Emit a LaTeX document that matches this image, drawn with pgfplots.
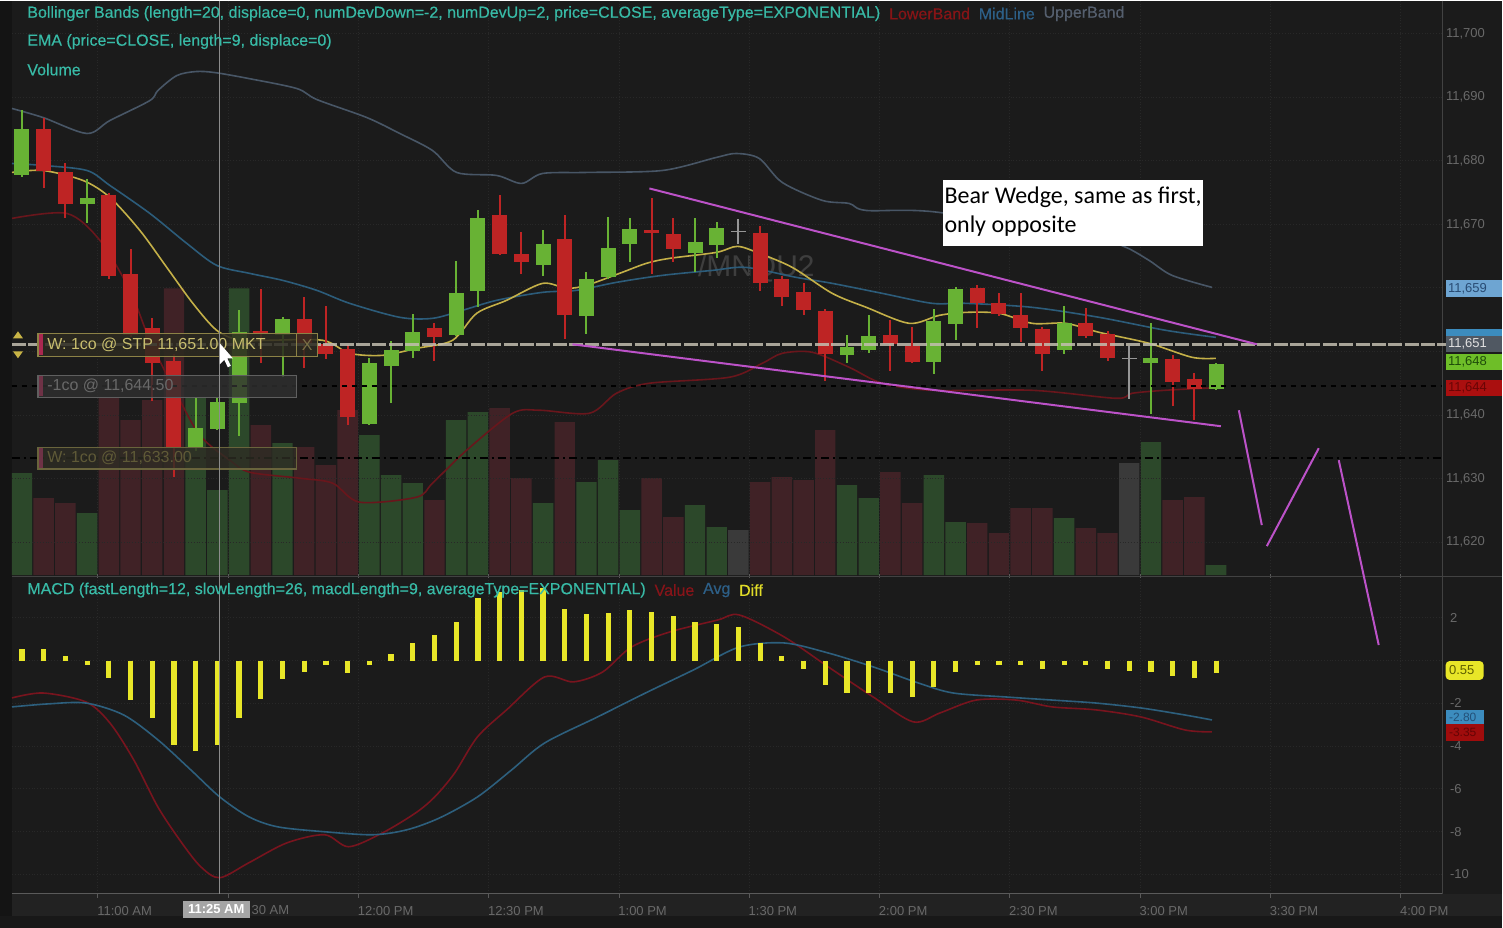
\documentclass[border=0pt]{standalone}
\usepackage{pgfplots}
\pgfplotsset{compat=1.18}
\usepackage{pgfplotstable}
\usepackage{fontspec}
\setmainfont{Liberation Sans}
\newfontfamily\calibri{Carlito}
\newfontfamily\lgfam[FakeBold=0.4]{Liberation Sans}

\definecolor{bg}{RGB}{27,27,27}
\definecolor{strip}{RGB}{20,20,20}
\definecolor{timebg}{RGB}{34,34,34}
\definecolor{botbg}{RGB}{24,24,24}
\definecolor{sepc}{RGB}{66,66,66}
\definecolor{axl}{RGB}{90,90,90}
\definecolor{gridc}{RGB}{40,40,40}
\definecolor{tickg}{RGB}{105,105,105}
\definecolor{upc}{RGB}{104,178,52}
\definecolor{dnc}{RGB}{190,36,36}
\definecolor{grc}{RGB}{150,150,150}
\definecolor{vup}{RGB}{44,72,42}
\definecolor{vdn}{RGB}{64,34,38}
\definecolor{vgr}{RGB}{58,58,58}
\definecolor{ubc}{RGB}{72,86,102}
\definecolor{mlc}{RGB}{44,92,122}
\definecolor{lbc}{RGB}{105,22,28}
\definecolor{emac}{RGB}{196,176,72}
\definecolor{macdy}{RGB}{232,230,40}
\definecolor{valc}{RGB}{120,20,30}
\definecolor{avgc}{RGB}{45,95,125}
\definecolor{tealc}{RGB}{56,186,166}
\definecolor{mag}{RGB}{188,82,200}
\definecolor{wmc}{RGB}{62,62,62}
\definecolor{obox}{RGB}{140,130,70}
\definecolor{otext}{RGB}{200,190,110}

% candles: k open high low close volume
\pgfplotstableread{
k o h l c v
0 11677.75 11688.00 11677.50 11685.00 102
3 11673.25 11677.25 11670.25 11674.25 62
8 11635.00 11642.75 11634.50 11638.00 177
9 11638.00 11642.75 11637.75 11642.25 85
10 11642.00 11656.50 11636.75 11653.25 287
12 11652.75 11655.50 11646.00 11655.25 132
16 11638.75 11649.00 11638.50 11648.25 140
17 11647.75 11651.75 11642.00 11650.25 100
18 11650.25 11656.00 11649.00 11653.25 92
20 11652.75 11664.25 11652.50 11659.25 155
21 11659.50 11672.25 11657.00 11671.00 163
24 11663.75 11669.25 11662.00 11667.00 72
26 11655.75 11662.50 11652.75 11661.50 93
27 11661.75 11671.25 11661.50 11666.25 115
28 11667.00 11671.00 11664.00 11669.25 65
31 11665.50 11671.00 11662.50 11667.25 70
32 11666.75 11670.50 11664.75 11669.50 48
38 11649.50 11652.75 11648.25 11650.75 90
39 11650.25 11655.75 11649.75 11652.50 77
42 11648.50 11656.75 11646.50 11655.00 100
43 11654.50 11660.25 11652.00 11660.00 53
48 11650.25 11657.25 11649.75 11654.50 57
52 11648.25 11654.50 11640.25 11649.00 133
55 11644.25 11648.25 11644.00 11648.25 10
}\upbars
\pgfplotstableread{
k o h l c v
1 11685.00 11686.75 11675.75 11678.50 77
2 11678.25 11679.75 11671.00 11673.25 72
4 11674.75 11675.00 11661.50 11662.00 178
5 11662.25 11666.25 11652.50 11652.75 155
6 11653.75 11655.25 11642.25 11648.25 175
7 11648.50 11649.50 11630.25 11635.00 287
11 11653.25 11660.00 11648.25 11652.75 150
13 11655.25 11658.75 11647.50 11651.25 128
14 11651.25 11657.25 11649.00 11649.75 110
15 11650.50 11651.00 11638.50 11639.75 165
19 11653.75 11654.50 11648.50 11652.25 75
22 11671.50 11674.75 11665.25 11665.50 167
23 11665.50 11668.75 11662.25 11664.25 97
25 11667.75 11671.50 11652.00 11655.75 153
29 11669.25 11674.25 11662.25 11668.75 97
30 11668.50 11671.00 11664.00 11666.25 58
34 11668.75 11669.75 11659.50 11660.75 93
35 11661.50 11662.00 11657.25 11658.75 98
36 11659.25 11660.75 11655.75 11656.50 95
37 11656.50 11656.75 11645.50 11649.75 145
40 11652.75 11655.00 11647.00 11651.25 103
41 11651.00 11654.00 11648.25 11648.50 72
44 11660.00 11660.50 11653.75 11657.75 52
45 11657.75 11659.25 11655.75 11656.00 42
46 11655.75 11659.25 11651.50 11653.75 67
47 11653.75 11654.00 11647.00 11649.75 67
49 11654.50 11657.00 11652.25 11652.50 47
50 11652.75 11653.25 11648.50 11649.00 42
53 11649.00 11649.50 11641.50 11645.25 75
54 11645.75 11646.75 11639.25 11644.25 78
}\dnbars
\pgfplotstableread{
k o h l c v
33 11669.00 11671.00 11667.00 11669.00 45
51 11649.00 11651.00 11642.75 11649.00 112
}\grbars

% Bollinger bands and EMA (k, price)
\pgfplotstableread{
k p
-0.46 11688.22
0.97 11686.80
2.99 11684.29
4.05 11686.33
5.89 11689.47
6.26 11691.05
7.13 11693.40
8.01 11694.03
8.88 11693.87
10.45 11692.93
12.66 11691.36
13.58 11689.63
15.88 11686.80
17.40 11684.29
18.91 11681.61
20.02 11678.16
21.86 11677.69
23.01 11676.43
23.98 11678.00
26.00 11678.16
29.50 11678.47
31.98 11680.52
32.90 11681.14
33.96 11680.36
35.02 11676.58
36.86 11673.76
38.10 11673.28
38.89 11672.18
42.25 11671.87
49.61 11667.47
50.85 11666.37
51.91 11664.33
52.97 11661.97
54.81 11660.08
}\ub
\pgfplotstableread{
k p
-0.46 11679.57
0.97 11679.26
2.99 11678.47
4.05 11676.11
5.89 11671.71
7.59 11667.00
8.97 11663.54
10.49 11662.28
12.01 11661.18
13.58 11659.61
15.09 11657.57
17.40 11655.37
18.91 11655.21
20.29 11656.47
21.86 11658.04
23.98 11659.30
25.54 11659.61
27.38 11660.87
29.50 11661.97
31.80 11662.75
33.36 11663.22
35.67 11661.65
37.32 11660.71
39.62 11659.14
41.92 11657.57
43.49 11657.57
46.53 11656.94
49.61 11655.37
52.69 11653.32
54.99 11652.22
}\ml
\pgfplotstableread{
k p
-0.46 11670.93
2.07 11671.71
3.59 11667.47
4.97 11659.61
5.89 11651.75
7.04 11643.89
8.19 11636.82
9.57 11632.90
10.49 11631.00
12.79 11630.06
14.31 11629.28
15.55 11626.29
18.18 11627.08
18.91 11629.28
20.48 11634.46
22.60 11640.28
23.84 11640.75
26.14 11640.28
27.38 11643.42
28.90 11645.00
32.58 11645.94
34.10 11648.14
35.02 11649.71
36.40 11649.87
38.10 11647.51
39.62 11645.00
41.92 11643.89
46.53 11643.89
50.39 11642.63
51.13 11643.42
52.69 11643.90
54.99 11644.30
}\lb
\pgfplotstableread{
k p
-0.46 11678.16
0.97 11678.47
2.81 11676.90
4.05 11674.23
5.43 11669.04
6.67 11663.22
7.87 11657.57
8.97 11653.32
10.03 11651.75
11.27 11651.75
13.85 11651.75
15.09 11649.71
16.61 11649.39
18.18 11650.49
19.83 11651.75
20.94 11655.99
22.32 11658.04
23.98 11660.71
25.08 11659.93
26.00 11660.40
27.52 11662.28
28.76 11663.86
29.82 11664.64
31.98 11665.58
32.95 11666.53
33.96 11665.43
35.48 11663.22
37.32 11659.14
38.89 11656.94
40.87 11654.42
42.25 11655.68
43.49 11656.15
45.01 11656.00
46.53 11654.42
48.09 11654.42
49.61 11653.01
51.91 11651.28
53.89 11649.08
54.99 11648.92
}\ema

% MACD: histogram (Diff), Value, Avg
\pgfplotstableread{
k d
0 0.54
1 0.54
2 0.2
3 -0.2
4 -0.82
5 -1.85
6 -2.69
7 -3.95
8 -4.23
9 -3.95
10 -2.69
11 -1.80
12 -0.86
13 -0.54
14 -0.2
15 -0.58
16 -0.2
17 0.30
18 0.82
19 1.19
20 1.80
21 2.92
22 3.20
23 3.30
24 3.39
25 2.40
26 2.17
27 2.22
28 2.36
29 2.27
30 2.08
31 1.80
32 1.71
33 1.57
34 0.82
35 0.2
36 -0.40
37 -1.14
38 -1.52
39 -1.52
40 -1.52
41 -1.70
42 -1.24
43 -0.54
44 -0.2
45 -0.2
46 -0.2
47 -0.40
48 -0.2
49 -0.2
50 -0.40
51 -0.49
52 -0.54
53 -0.72
54 -0.82
55 -0.58
}\hist
\pgfplotstableread{
k m
-0.46 -1.75
0.97 -1.52
2.95 -1.94
4.05 -2.92
5.15 -4.65
6.26 -6.85
7.36 -8.53
8.24 -9.65
9.11 -10.16
10.45 -9.46
12.20 -8.53
13.94 -8.15
15.05 -8.71
16.61 -8.06
18.13 -7.13
19.01 -6.38
19.93 -5.26
20.98 -3.57
22.32 -2.31
24.07 -0.77
25.40 -1.00
26.74 -0.54
28.07 0.63
29.82 1.33
32.03 1.89
33.04 2.13
35.11 1.10
37.14 -0.30
39.21 -1.71
41.05 -2.87
42.29 -2.45
43.95 -1.85
45.79 -1.85
47.45 -2.17
49.47 -2.31
51.54 -2.64
53.57 -3.25
54.81 -3.34
}\mval
\pgfplotstableread{
k m
-0.46 -2.17
1.20 -2.03
2.95 -1.99
4.69 -2.55
6.26 -3.71
7.78 -5.12
9.11 -6.38
10.45 -7.31
11.78 -7.78
13.94 -8.01
16.15 -8.15
17.72 -7.92
19.24 -7.36
20.98 -6.38
22.55 -5.12
24.07 -3.86
26.51 -2.64
28.72 -1.52
30.93 -0.44
33.04 0.63
35.11 0.82
37.14 0.35
39.21 -0.30
41.28 -1.05
42.89 -1.52
45.38 -1.71
47.45 -1.85
49.47 -1.99
51.54 -2.22
53.57 -2.55
54.81 -2.78
}\mavg

\pgfplotsset{
  panel/.style={scale only axis, width=715.5pt, xmin=-0.46, xmax=65.39,
    axis line style={draw=none},
    xtick={3.5,9.5,15.5,21.5,27.5,33.5,39.5,45.5,51.5,57.5,63.5},
    grid=major, grid style={draw=gridc, densely dotted, line width=0.5pt},
    yticklabel pos=right, scaled y ticks=false,
    yticklabel style={font=\fontsize{6.5}{7}\selectfont, text=tickg, anchor=west, inner sep=0pt, xshift=2pt},
    xticklabel style={font=\fontsize{6.5}{7}\selectfont, text=tickg, anchor=north west, inner sep=0pt, xshift=-0.5pt, yshift=-4pt}},
  wick/.style={draw=none, mark=none, forget plot,
    error bars/.cd, y dir=both, y explicit, error mark=none,
    error bar style={draw=#1, line width=1pt}},
  body/.style={draw=none, mark=none, forget plot,
    error bars/.cd, y dir=both, y explicit, error mark=none,
    error bar style={draw=#1, line width=7.5pt}},
}
\newcommand{\lgf}{\lgfam\fontsize{8}{9}\selectfont}
\newcommand{\obf}{\fontsize{8}{9}\selectfont}

\begin{document}
\begin{tikzpicture}
\fill[bg] (0,0) rectangle (751.5pt,-464pt);
\begin{scope}[x=0.5pt,y=-0.5pt]
  \fill[strip] (0,0) rectangle (12,928);
  \fill[timebg] (12,894) rectangle (1503,916);
  \fill[botbg] (0,916) rectangle (1503,928);
  \node[text=wmc, font=\fontsize{15}{15}\selectfont, inner sep=0] at (757,268) {/MNQU2};
\end{scope}

% volume
\begin{axis}[at={(6pt,-287.5pt)}, anchor=south west, scale only axis,
  width=715.5pt, height=287.5pt, xmin=-0.46, xmax=65.39, ymin=0, ymax=575, hide axis]
\addplot[ybar, bar width=0.94, bar shift=0pt, fill=vup, draw=none] table[x=k,y=v] {\upbars};
\addplot[ybar, bar width=0.94, bar shift=0pt, fill=vdn, draw=none] table[x=k,y=v] {\dnbars};
\addplot[ybar, bar width=0.94, bar shift=0pt, fill=vgr, draw=none] table[x=k,y=v] {\grbars};
\end{axis}

% price
\begin{axis}[panel, at={(6pt,-287.5pt)}, anchor=south west, height=287.5pt,
  ymin=11614.82, ymax=11705.19, major tick length=0pt, xticklabels={},
  ytick={11620,11630,11640,11650,11660,11670,11680,11690,11700},
  yticklabels={{11,620},{11,630},{11,640},{},{},{11,670},{11,680},{11,690},{11,700}}]
\addplot[ubc, line width=0.8pt, smooth, tension=0.5] table[x=k,y=p] {\ub};
\addplot[mlc, line width=0.8pt, smooth, tension=0.5] table[x=k,y=p] {\ml};
\addplot[lbc, line width=0.8pt, smooth, tension=0.5] table[x=k,y=p] {\lb};
\addplot[emac, line width=0.8pt, smooth, tension=0.5] table[x=k,y=p] {\ema};
\addplot[wick=upc] table[x=k, y expr={(\thisrow{h}+\thisrow{l})/2}, y error expr={(\thisrow{h}-\thisrow{l})/2}] {\upbars};
\addplot[wick=dnc] table[x=k, y expr={(\thisrow{h}+\thisrow{l})/2}, y error expr={(\thisrow{h}-\thisrow{l})/2}] {\dnbars};
\addplot[wick=grc] table[x=k, y expr={(\thisrow{h}+\thisrow{l})/2}, y error expr={(\thisrow{h}-\thisrow{l})/2}] {\grbars};
\addplot[body=upc] table[x=k, y expr={(\thisrow{o}+\thisrow{c})/2}, y error expr={max(abs(\thisrow{o}-\thisrow{c})/2,0.12)}] {\upbars};
\addplot[body=dnc] table[x=k, y expr={(\thisrow{o}+\thisrow{c})/2}, y error expr={max(abs(\thisrow{o}-\thisrow{c})/2,0.12)}] {\dnbars};
\addplot[body=grc] table[x=k, y expr={(\thisrow{o}+\thisrow{c})/2}, y error expr={max(abs(\thisrow{o}-\thisrow{c})/2,0.12)}] {\grbars};
\end{axis}

% MACD
\begin{axis}[panel, at={(6pt,-447pt)}, anchor=south west, height=158pt,
  ymin=-10.911, ymax=3.855, ytick={-10,-8,-6,-4,-2,0,2},
  yticklabels={-10,-8,-6,-4,-2,{},2},
  xticklabels={11:00 AM,{},12:00 PM,12:30 PM,1:00 PM,1:30 PM,2:00 PM,2:30 PM,3:00 PM,3:30 PM,4:00 PM},
  tick align=outside, major tick length=2pt,
  xtick style={draw=axl, line width=0.5pt}, ytick style={draw=none}]
\addplot[valc, line width=0.8pt, smooth, tension=0.5] table[x=k,y=m] {\mval};
\addplot[avgc, line width=0.8pt, smooth, tension=0.5] table[x=k,y=m] {\mavg};
\addplot[ycomb, macdy, line width=2.6pt] table[x=k,y=d] {\hist};
\end{axis}

\begin{scope}[x=0.5pt,y=-0.5pt]
  % frames
  \draw[sepc, line width=0.6pt] (1443.5,0) -- (1443.5,894);
  \draw[sepc, line width=0.6pt] (12,576.5) -- (1503,576.5);
  \draw[axl, line width=0.6pt] (12,894) -- (1443,894);
  % order levels
  \draw[black, line width=1pt, dash pattern=on 2.5pt off 2.5pt] (12,386) -- (1443,386);
  \draw[black, line width=1pt, dash pattern=on 4pt off 2pt on 1pt off 2pt] (12,458) -- (1443,458);
  \draw[color={rgb,255:red,195;green,190;blue,176}, opacity=0.85, line width=1.4pt, dash pattern=on 7pt off 1.2pt] (12,344.5) -- (1503,344.5);
  % order boxes
  \draw[obox, fill={rgb,255:red,44;green,42;blue,32}, fill opacity=0.85, line width=0.7pt] (38,333) rectangle (318,356);
  \fill[color={rgb,255:red,170;green,40;blue,80}] (39,334) rectangle (43,355);
  \draw[obox, line width=0.6pt] (297,333) -- (297,356);
  \node[anchor=west, inner sep=0, text=otext, font=\obf] at (47,344.5) {W: 1co @ STP 11,651.00 MKT};
  \node[inner sep=0, text={rgb,255:red,120;green,112;blue,70}, font=\obf] at (307.5,344.5) {X};
  \draw[color={rgb,255:red,95;green,95;blue,95}, fill={rgb,255:red,48;green,48;blue,48}, fill opacity=0.8, line width=0.7pt] (38,375) rectangle (297,397);
  \fill[color={rgb,255:red,110;green,50;blue,70}] (39,376) rectangle (43,396);
  \node[anchor=west, inner sep=0, text={rgb,255:red,105;green,105;blue,105}, font=\obf] at (47,386) {-1co @ 11,644.50};
  \draw[color={rgb,255:red,105;green,100;blue,60}, fill={rgb,255:red,46;green,45;blue,36}, fill opacity=0.8, line width=0.7pt] (38,447) rectangle (297,469);
  \fill[color={rgb,255:red,110;green,50;blue,70}] (39,448) rectangle (43,468);
  \node[anchor=west, inner sep=0, text={rgb,255:red,95;green,90;blue,55}, font=\obf] at (47,458) {W: 1co @ 11,633.00};
  % left arrows
  \fill[color={rgb,255:red,200;green,180;blue,70}] (13,338) -- (23,338) -- (18,331) -- cycle;
  \fill[color={rgb,255:red,200;green,180;blue,70}] (13,351) -- (23,351) -- (18,358) -- cycle;
  % crosshair and cursor
  \draw[color={rgb,255:red,140;green,140;blue,140}, line width=0.4pt] (219.5,0) -- (219.5,894);
  \fill[white] (220,343) -- (220,364) -- (224.5,359.5) -- (228,367) -- (231,365.5) -- (227.5,358) -- (233,358) -- cycle;
  \fill[color={rgb,255:red,165;green,165;blue,165}] (183,901) rectangle (250,918);
  \node[inner sep=0, text=white, font=\fontsize{6.5}{7}\selectfont\bfseries] at (216.5,909.5) {11:25 AM};
  \node[anchor=west, inner sep=0, text=tickg, font=\fontsize{6.5}{7}\selectfont] at (251.5,910) {30 AM};
  % right value labels
  \fill[color={rgb,255:red,110;green,165;blue,210}] (1447,280) rectangle (1503,297);
  \node[anchor=west, inner sep=0, text={rgb,255:red,40;green,75;blue,115}, font=\fontsize{6.5}{7}\selectfont] at (1449,288.5) {11,659};
  \fill[color={rgb,255:red,60;green,140;blue,190}] (1447,329) rectangle (1503,345);
  \fill[color={rgb,255:red,80;green,88;blue,98}] (1447,336) rectangle (1503,352);
  \node[anchor=west, inner sep=0, text={rgb,255:red,225;green,225;blue,225}, font=\fontsize{6.5}{7}\selectfont] at (1449,344) {11,651};
  \fill[color={rgb,255:red,110;green,190;blue,40}] (1447,354) rectangle (1503,370);
  \node[anchor=west, inner sep=0, text={rgb,255:red,30;green,75;blue,10}, font=\fontsize{6.5}{7}\selectfont] at (1449,362) {11,648};
  \fill[color={rgb,255:red,170;green,15;blue,15}] (1447,380) rectangle (1503,396);
  \node[anchor=west, inner sep=0, text={rgb,255:red,105;green,5;blue,5}, font=\fontsize{6.5}{7}\selectfont] at (1449,388) {11,644};
  \fill[macdy, rounded corners=2pt] (1447,661) rectangle (1485,680);
  \node[anchor=west, inner sep=0, text={rgb,255:red,95;green,95;blue,0}, font=\fontsize{6.5}{7}\selectfont] at (1450,670.5) {0.55};
  \fill[color={rgb,255:red,60;green,140;blue,190}] (1447,710) rectangle (1485,724);
  \node[anchor=west, inner sep=0, text={rgb,255:red,35;green,80;blue,120}, font=\fontsize{6}{6}\selectfont] at (1450,717) {-2.80};
  \fill[color={rgb,255:red,160;green,12;blue,12}] (1447,724) rectangle (1485,741);
  \node[anchor=west, inner sep=0, text={rgb,255:red,100;green,5;blue,5}, font=\fontsize{6}{6}\selectfont] at (1450,732.5) {-3.35};
  % study titles
  \node[anchor=west, inner sep=0, text=tealc, font=\lgf] (bb) at (27,13) {Bollinger Bands (length=20, displace=0, numDevDown=-2, numDevUp=2, price=CLOSE, averageType=EXPONENTIAL)};
  \node[anchor=west, inner sep=0, text={rgb,255:red,135;green,20;blue,22}, font=\lgf] (lbn) at ([xshift=4pt]bb.east) {LowerBand};
  \node[anchor=west, inner sep=0, text={rgb,255:red,45;green,95;blue,135}, font=\lgf] (mln) at ([xshift=4pt]lbn.east) {MidLine};
  \node[anchor=west, inner sep=0, text={rgb,255:red,85;green,95;blue,110}, font=\lgf] at ([xshift=4pt]mln.east) {UpperBand};
  \node[anchor=west, inner sep=0, text=tealc, font=\lgf] at (27,41) {EMA (price=CLOSE, length=9, displace=0)};
  \node[anchor=west, inner sep=0, text=tealc, font=\lgf] at (27,69) {Volume};
  \node[anchor=west, inner sep=0, text=tealc, font=\lgf] (md) at (27,590) {MACD (fastLength=12, slowLength=26, macdLength=9, averageType=EXPONENTIAL)};
  \node[anchor=west, inner sep=0, text={rgb,255:red,135;green,20;blue,25}, font=\lgf] (vn) at ([xshift=4pt]md.east) {Value};
  \node[anchor=west, inner sep=0, text={rgb,255:red,45;green,95;blue,135}, font=\lgf] (an) at ([xshift=4pt]vn.east) {Avg};
  \node[anchor=west, inner sep=0, text={rgb,255:red,225;green,220;blue,40}, font=\lgf] at ([xshift=4pt]an.east) {Diff};
  % annotation
  \draw[mag, line width=1pt] (650,188) -- (1258,344);
  \draw[mag, line width=1pt] (573,344) -- (1222,426);
  \draw[mag, line width=1pt] (1240,410) -- (1263,525);
  \draw[mag, line width=1pt] (1268,546) -- (1320,448);
  \draw[mag, line width=1pt] (1340,460) -- (1380,645);
  \fill[white] (944,180) rectangle (1204,246);
  \node[anchor=north west, inner sep=0, align=left, text=black, font=\calibri\fontsize{12}{14.5}\selectfont] at (945,186) {Bear Wedge, same as first,\\only opposite};
\end{scope}
\end{tikzpicture}
\end{document}
